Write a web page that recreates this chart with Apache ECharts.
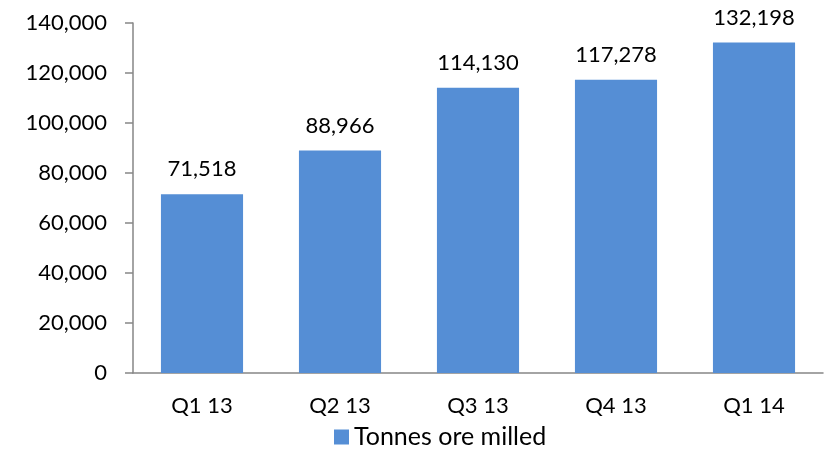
<!DOCTYPE html>
<html>
<head>
<meta charset="utf-8">
<script src="https://cdn.jsdelivr.net/npm/echarts@6/dist/echarts.min.js"></script>
<style>html,body{margin:0;padding:0;background:#fff;}#c{width:825px;height:450px;}</style>
</head>
<body>
<div id="c"></div>
<script>
var categories = ['Q1 13', 'Q2 13', 'Q3 13', 'Q4 13', 'Q1 14'];
var tonnesOreMilled = [71518, 88966, 114130, 117278, 132198];
var seriesName = 'Tonnes ore milled';

var chart = echarts.init(document.getElementById('c'));
var fmt = function (v) { return Number(v).toLocaleString('en-US'); };
chart.setOption({
  animation: false,
  textStyle: { fontFamily: 'Lato' },
  grid: { left: 133, right: 2, top: 23, bottom: 77, containLabel: false },
  legend: {
    data: [seriesName],
    left: 334, top: 422,
    padding: 0,
    itemWidth: 15, itemHeight: 15, itemGap: 6,
    icon: 'rect',
    textStyle: { fontFamily: 'Lato', fontSize: 25, color: '#000', lineHeight: 30 }
  },
  xAxis: {
    type: 'category',
    data: categories,
    axisLine: { lineStyle: { color: '#868686', width: 1.5 } },
    axisTick: { show: false },
    axisLabel: { fontFamily: 'Lato', fontSize: 22, color: '#000', margin: 22 }
  },
  yAxis: {
    type: 'value',
    min: 0, max: 140000, interval: 20000,
    axisLine: { show: true, lineStyle: { color: '#868686', width: 1.5 } },
    axisTick: { show: true, length: 8, lineStyle: { color: '#868686', width: 1.5 } },
    splitLine: { show: false },
    axisLabel: { fontFamily: 'Lato', fontSize: 22, color: '#000', margin: 26, formatter: fmt }
  },
  series: [{
    name: seriesName,
    type: 'bar',
    data: tonnesOreMilled,
    barWidth: '59.5%',
    itemStyle: { color: '#558ED5' },
    label: {
      show: true, position: 'top', distance: 14,
      fontFamily: 'Lato', fontSize: 22, color: '#000',
      formatter: function (p) { return fmt(p.value); }
    }
  }]
});
</script>
</body>
</html>
